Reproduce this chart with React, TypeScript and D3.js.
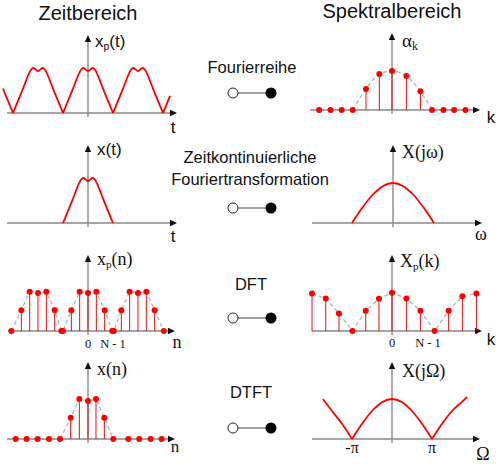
import React from 'react';
import * as d3 from 'd3';

// ---------- data ----------
// continuous single pulse x(t); t in units of half pulse width
const pulseT: [number, number][] = [
  [-1, 0], [-0.8, 0.27], [-0.6, 0.54], [-0.45, 0.76], [-0.35, 0.89], [-0.25, 0.98], [-0.18, 1], [-0.08, 0.96], [0, 0.93],
  [0.08, 0.96], [0.18, 1], [0.25, 0.98], [0.35, 0.89], [0.45, 0.76], [0.6, 0.54], [0.8, 0.27], [1, 0],
];
// periodic x_p(t)
const periodicT: [number, number][] = [
  [-3.4, 0.54], [-3.2, 0.27], [-3.0, 0],
  [-2.8, 0.27], [-2.6, 0.54], [-2.45, 0.76], [-2.35, 0.89], [-2.25, 0.98], [-2.18, 1], [-2.08, 0.96], [-2, 0.93],
  [-1.92, 0.96], [-1.82, 1], [-1.75, 0.98], [-1.65, 0.89], [-1.55, 0.76], [-1.4, 0.54], [-1.2, 0.27], [-1, 0],
  [-0.8, 0.27], [-0.6, 0.54], [-0.45, 0.76], [-0.35, 0.89], [-0.25, 0.98], [-0.18, 1], [-0.08, 0.96], [0, 0.93],
  [0.08, 0.96], [0.18, 1], [0.25, 0.98], [0.35, 0.89], [0.45, 0.76], [0.6, 0.54], [0.8, 0.27], [1, 0],
  [1.2, 0.27], [1.4, 0.54], [1.55, 0.76], [1.65, 0.89], [1.75, 0.98], [1.82, 1], [1.92, 0.96], [2, 0.93],
  [2.08, 0.96], [2.18, 1], [2.25, 0.98], [2.35, 0.89], [2.45, 0.76], [2.6, 0.54], [2.8, 0.27], [3, 0],
  [3.2, 0.27], [3.28, 0.38],
];
// Fourier series coefficients alpha_k
const alphaPos = [-5.47, -4.61, -3.78, -2.95, -1.95, -0.95, 0, 1.08, 2.13, 3.0, 3.86, 4.66, 5.51];
const alphaVal = [0, 0, 0, 0, 0.54, 0.92, 1, 0.87, 0.48, 0, 0, 0, 0];
// continuous spectrum X(jw)
const specCont: [number, number][] = [
  [-1, 0], [-0.75, 0.38], [-0.5, 0.7], [-0.25, 0.92], [0, 1], [0.25, 0.92], [0.5, 0.7], [0.75, 0.38], [1, 0],
];
// periodic sequence x_p(n)
const xpnPos = [-9.2, -8, -7, -6, -5, -4, -3.2, -3, -2, -1, 0, 1, 2, 2.9, 3.1, 4, 5, 6, 7, 8, 9.1];
const xpnVal = [0, 0.53, 1, 0.97, 1, 0.53, 0, 0, 0.53, 1, 0.97, 1, 0.53, 0, 0, 0.53, 1, 0.97, 1, 0.53, 0];
// DFT X_p(k)
const XpkPos = [-6.0, -4.97, -3.98, -2.97, -1.97, -0.98, 0, 1.08, 2.13, 3.2, 4.25, 5.28, 6.33];
const XpkVal = [0.98, 0.85, 0.46, 0, 0.53, 0.84, 1, 0.85, 0.53, 0, 0.53, 0.91, 0.98];
// finite sequence x(n)
const xnPos = [-8.68, -7.37, -6.05, -4.68, -3.36, -2.08, -1.04, 0, 0.96, 1.96, 3.04, 4.84, 6.16, 7.52, 8.84];
const xnVal = [0, 0, 0, 0, 0, 0.53, 1, 0.95, 1, 0.53, 0, 0, 0, 0, 0];
// DTFT X(jOmega), Omega in units of pi
const dtft: [number, number][] = [
  [-1.73, 1.0], [-1.5, 0.7], [-1.25, 0.38], [-1, 0], [-0.75, 0.38], [-0.5, 0.7], [-0.25, 0.92], [0, 1],
  [0.25, 0.92], [0.5, 0.7], [0.75, 0.38], [1, 0], [1.25, 0.38], [1.5, 0.7], [1.75, 0.93], [1.88, 1.05],
];
const headers = ['Zeitbereich', 'Spektralbereich'];
const transforms = ['Fourierreihe', 'Zeitkontinuierliche', 'Fouriertransformation', 'DFT', 'DTFT'];
const dftTicks = ['0', 'N - 1'];
const dtftTicks = ['-π', 'π'];

// ---------- styling ----------
const SANS = "'Liberation Sans', Arial, sans-serif";
const SERIF = "'Liberation Serif', 'Times New Roman', serif";
const RED = '#ff0000';
const AXIS = '#888';

type Panel = { cx: number; base: number; x0: number; x1: number; top: number; ux: number; uy: number };

function scales(p: Panel) {
  const x = d3.scaleLinear().domain([0, 1]).range([p.cx, p.cx + p.ux]);
  const y = d3.scaleLinear().domain([0, 1]).range([p.base, p.base - p.uy]);
  return { x, y };
}

function splitAtZeros(pts: [number, number][]) {
  const segs: [number, number][][] = [];
  let cur: [number, number][] = [];
  pts.forEach((p, i) => {
    cur.push(p);
    if (p[1] === 0 && i > 0 && i < pts.length - 1 && cur.length > 1) {
      segs.push(cur);
      cur = [p];
    }
  });
  if (cur.length > 1) segs.push(cur);
  return segs;
}

function Axes({ p }: { p: Panel }) {
  const ah = 7, aw = 3.2;
  return (
    <g>
      <line x1={p.x0} y1={p.base} x2={p.x1 - ah + 1} y2={p.base} stroke={AXIS} strokeWidth={1.4} />
      <line x1={p.cx} y1={p.base + 4} x2={p.cx} y2={p.top + ah - 1} stroke={AXIS} strokeWidth={1.4} />
      <path d={`M${p.x1},${p.base} L${p.x1 - ah},${p.base - aw} L${p.x1 - ah},${p.base + aw} Z`} fill="#111" />
      <path d={`M${p.cx},${p.top} L${p.cx - aw},${p.top + ah} L${p.cx + aw},${p.top + ah} Z`} fill="#111" />
    </g>
  );
}

function CurvePanel({ p, data }: { p: Panel; data: [number, number][] }) {
  const { x, y } = scales(p);
  const line = d3.line<[number, number]>().x(d => x(d[0])).y(d => y(d[1])).curve(d3.curveMonotoneX);
  return (
    <g>
      <Axes p={p} />
      {splitAtZeros(data).map((s, i) => (
        <path key={i} d={line(s) || ''} fill="none" stroke={RED} strokeWidth={1.8} strokeLinejoin="round" />
      ))}
    </g>
  );
}

function StemPanel({ p, pos, val, env, smooth }: { p: Panel; pos: number[]; val: number[]; env: [number, number]; smooth?: boolean }) {
  const { x, y } = scales(p);
  const pts: [number, number][] = pos.map((v, i) => [v, val[i]]);
  const envPts = pts.slice(env[0], env[1] + 1);
  const line = d3.line<[number, number]>().x(d => x(d[0])).y(d => y(d[1]))
    .curve(smooth ? d3.curveMonotoneX : d3.curveLinear);
  return (
    <g>
      <Axes p={p} />
      <path d={line(envPts) || ''} fill="none" stroke="#b4b4b4" strokeWidth={1.3} strokeDasharray="4,3" />
      {pts.filter(d => d[1] > 0).map((d, i) => (
        <line key={'s' + i} x1={x(d[0])} y1={y(0)} x2={x(d[0])} y2={y(d[1])} stroke="#e21010" strokeWidth={1} />
      ))}
      {pts.map((d, i) => (
        <circle key={'c' + i} cx={x(d[0])} cy={y(d[1])} r={3} fill={RED} />
      ))}
    </g>
  );
}

function Connector({ y }: { y: number }) {
  return (
    <g>
      <line x1={233} y1={y} x2={271} y2={y} stroke="#444" strokeWidth={1} />
      <circle cx={233} cy={y} r={5} fill="#fff" stroke="#222" strokeWidth={1} />
      <circle cx={271} cy={y} r={5.5} fill="#000" />
    </g>
  );
}

function SubLabel({ x, y, main, sub, rest, font, size }: { x: number; y: number; main: string; sub?: string; rest: string; font: string; size: number }) {
  return (
    <text x={x} y={y} fontFamily={font} fontSize={size} fill="#111">
      {main}
      {sub ? <tspan fontSize={size * 0.62} dy={3}>{sub}</tspan> : null}
      <tspan fontSize={size} dy={sub ? -3 : 0}>{rest}</tspan>
    </text>
  );
}

const P1: Panel = { cx: 88, base: 113, x0: 7, x1: 177, top: 35, ux: 25, uy: 45 };
const P2: Panel = { cx: 88, base: 223, x0: 7, x1: 177, top: 145, ux: 25, uy: 45 };
const P3: Panel = { cx: 88, base: 331, x0: 8, x1: 175, top: 255, ux: 8.33, uy: 39.3 };
const P4: Panel = { cx: 88, base: 439, x0: 7, x1: 175, top: 362, ux: 8.33, uy: 40 };
const P5: Panel = { cx: 392, base: 110, x0: 310, x1: 480, top: 33, ux: 13.33, uy: 39 };
const P6: Panel = { cx: 393, base: 223, x0: 312, x1: 482, top: 145, ux: 41, uy: 40 };
const P7: Panel = { cx: 392, base: 331, x0: 312, x1: 482, top: 255, ux: 13.33, uy: 38.3 };
const P8: Panel = { cx: 392, base: 439, x0: 312, x1: 480, top: 362, ux: 40, uy: 40 };

export default function App() {
  const s3 = scales(P3);
  const s7 = scales(P7);
  const s8 = scales(P8);
  return (
    <svg width={500} height={464} style={{ position: 'absolute', left: 0, top: 0, background: '#fff' }}>
      <rect x={0} y={0} width={500} height={464} fill="#fff" />
      <text x={88} y={20} textAnchor="middle" fontFamily={SANS} fontSize={20} fill="#111">{headers[0]}</text>
      <text x={392} y={18} textAnchor="middle" fontFamily={SANS} fontSize={20} fill="#111">{headers[1]}</text>

      {/* middle column */}
      <text x={252} y={73} textAnchor="middle" fontFamily={SANS} fontSize={16.5} fill="#111">{transforms[0]}</text>
      <Connector y={93} />
      <text x={250} y={163} textAnchor="middle" fontFamily={SANS} fontSize={16.5} fill="#111">{transforms[1]}</text>
      <text x={250} y={185} textAnchor="middle" fontFamily={SANS} fontSize={16.5} fill="#111">{transforms[2]}</text>
      <Connector y={208} />
      <text x={251} y={290} textAnchor="middle" fontFamily={SANS} fontSize={16.5} fill="#111">{transforms[3]}</text>
      <Connector y={318} />
      <text x={251} y={398} textAnchor="middle" fontFamily={SANS} fontSize={16.5} fill="#111">{transforms[4]}</text>
      <Connector y={428} />

      {/* time domain */}
      <CurvePanel p={P1} data={periodicT} />
      <SubLabel x={95} y={47} main="x" sub="p" rest="(t)" font={SANS} size={17} />
      <text x={173} y={133} textAnchor="middle" fontFamily={SANS} fontSize={17} fill="#111">t</text>

      <CurvePanel p={P2} data={pulseT} />
      <SubLabel x={97} y={155} main="x" rest="(t)" font={SANS} size={17} />
      <text x={173} y={242} textAnchor="middle" fontFamily={SANS} fontSize={17} fill="#111">t</text>

      <StemPanel p={P3} pos={xpnPos} val={xpnVal} env={[0, xpnPos.length - 1]} />
      <SubLabel x={97} y={265} main="x" sub="p" rest="(n)" font={SERIF} size={18} />
      <text x={177} y={348} textAnchor="middle" fontFamily={SERIF} fontSize={18} fill="#111">n</text>
      <text x={s3.x(0)} y={348} textAnchor="middle" fontFamily={SERIF} fontSize={12.5} fill="#111">{dftTicks[0]}</text>
      <text x={s3.x(3)} y={348} textAnchor="middle" fontFamily={SERIF} fontSize={12.5} fill="#111">{dftTicks[1]}</text>

      <StemPanel p={P4} pos={xnPos} val={xnVal} env={[4, 10]} />
      <SubLabel x={97} y={375} main="x" rest="(n)" font={SERIF} size={18} />
      <text x={175} y={452} textAnchor="middle" fontFamily={SERIF} fontSize={17} fill="#111">n</text>

      {/* spectral domain */}
      <StemPanel p={P5} pos={alphaPos} val={alphaVal} env={[3, 9]} smooth />
      <SubLabel x={402} y={47} main="α" sub="k" rest="" font={SERIF} size={19} />
      <text x={491} y={123} textAnchor="middle" fontFamily={SANS} fontSize={17} fill="#111">k</text>

      <CurvePanel p={P6} data={specCont} />
      <SubLabel x={402} y={158} main="X(jω)" rest="" font={SERIF} size={18} />
      <text x={481} y={240} textAnchor="middle" fontFamily={SERIF} fontSize={18} fill="#111">ω</text>

      <StemPanel p={P7} pos={XpkPos} val={XpkVal} env={[0, XpkPos.length - 1]} />
      <SubLabel x={400} y={267} main="X" sub="p" rest="(k)" font={SERIF} size={18} />
      <text x={491} y={345} textAnchor="middle" fontFamily={SANS} fontSize={17} fill="#111">k</text>
      <text x={s7.x(0)} y={347} textAnchor="middle" fontFamily={SERIF} fontSize={12.5} fill="#111">{dftTicks[0]}</text>
      <text x={s7.x(2.7)} y={347} textAnchor="middle" fontFamily={SERIF} fontSize={12.5} fill="#111">{dftTicks[1]}</text>

      <CurvePanel p={P8} data={dtft} />
      <SubLabel x={402} y={377} main="X(jΩ)" rest="" font={SERIF} size={18} />
      <text x={483} y={460} textAnchor="middle" fontFamily={SERIF} fontSize={18} fill="#111">Ω</text>
      <text x={s8.x(-1)} y={453} textAnchor="middle" fontFamily={SERIF} fontSize={16} fill="#111">{dtftTicks[0]}</text>
      <text x={s8.x(1)} y={453} textAnchor="middle" fontFamily={SERIF} fontSize={16} fill="#111">{dtftTicks[1]}</text>
    </svg>
  );
}
